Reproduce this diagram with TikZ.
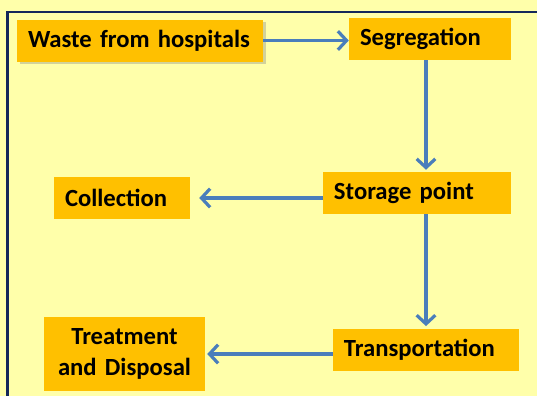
\documentclass[tikz,border=0pt]{standalone}
\usepackage{fontspec}
\setmainfont{Carlito}
\usepackage{tikz}
\usetikzlibrary{arrows.meta,shadows}

\definecolor{bgyellow}{RGB}{255,255,170}
\definecolor{boxorange}{RGB}{255,192,0}
\definecolor{flowblue}{RGB}{74,126,187}
\definecolor{framenavy}{RGB}{20,40,90}

\tikzset{
  stepbox/.style={fill=boxorange, inner xsep=8.25pt, inner ysep=3pt, minimum height=31.5pt,
    align=left, font=\bfseries\fontsize{18.5}{23}\selectfont},
  flow/.style={draw=flowblue, line width=2.6pt,
    -{Straight Barb[length=6.5pt,width=14pt,line width=2.4pt]}}
}

\begin{document}
\begin{tikzpicture}[x=0.75pt,y=0.75pt,yscale=-1,xscale=1]
%Background and frame
\path[use as bounding box, fill=bgyellow] (0,0) rectangle (537,396);
\draw[framenavy, line width=1.6pt] (7.5,396) -- (7.5,12) -- (537,12);

% Text Node
\node[stepbox, text width=168pt, drop shadow={shadow xshift=2pt, shadow yshift=-2pt, opacity=0.35}] (waste) at (140,40.5) {Waste from hospitals};
% Text Node
\node[stepbox, text width=105pt] (seg) at (430,39) {Segregation};
% Text Node
\node[stepbox, text width=124.5pt] (stor) at (417,193) {Storage point};
% Text Node
\node[stepbox, text width=85.5pt] (coll) at (122,198) {Collection};
% Text Node
\node[stepbox, text width=123pt] (trans) at (426,350) {Transportation};
% Text Node
\node[stepbox, text width=104.25pt, align=center, minimum height=55.5pt] (treat) at (124.5,354) {Treatment\\and Disposal};

%Arrows
\draw[flow] (waste.east) -- (waste.east -| seg.west);
\draw[flow, shorten >=1.5pt] (trans.north |- seg.south) -- (trans.north |- stor.north);
\draw[flow, shorten >=6.75pt] (stor.west |- coll.east) -- (coll.east);
\draw[flow, shorten >=2pt] (trans.north |- stor.south) -- (trans.north);
\draw[flow, shorten >=1.5pt] (trans.west |- treat.east) -- (treat.east);

\end{tikzpicture}
\end{document}
